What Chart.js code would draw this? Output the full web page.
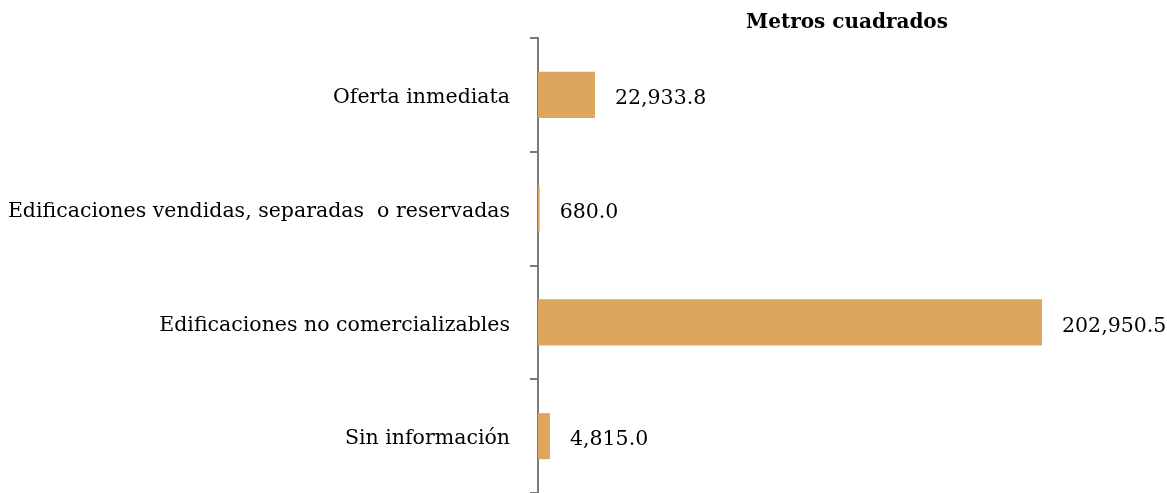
<!DOCTYPE html>
<html>
<head>
<meta charset="utf-8">
<script src="https://cdn.jsdelivr.net/npm/chart.js@4/dist/chart.umd.min.js"></script>
<style>
  body { margin: 0; background: #fff; }
  #wrap { width: 1167px; height: 493px; position: relative; }
</style>
</head>
<body>
<div id="wrap"><canvas id="chart"></canvas></div>
<script>
const categorias = ['Oferta inmediata', 'Edificaciones vendidas, separadas  o reservadas', 'Edificaciones no comercializables', 'Sin información'];
const metros = [22933.8, 680.0, 202950.5, 4815.0];
const titulo = 'Metros cuadrados';

const fuente = "'DejaVu Serif', serif";

// etiquetas de valor al final de cada barra + título
const etiquetas = {
    id: 'etiquetas',
    afterDatasetsDraw(chart) {
        const ctx = chart.ctx;
        const meta = chart.getDatasetMeta(0);
        ctx.save();
        ctx.font = '20.5px ' + fuente;
        ctx.fillStyle = '#000';
        ctx.textBaseline = 'middle';
        ctx.textAlign = 'left';
        meta.data.forEach(function(bar, i) {
            const txt = metros[i].toLocaleString('en-US', { minimumFractionDigits: 1, maximumFractionDigits: 1 });
            ctx.fillText(txt, bar.x + 20, bar.y + 4);
        });
        ctx.font = 'bold 20px ' + fuente;
        ctx.textAlign = 'center';
        ctx.fillText(titulo, 847, 23);
        ctx.restore();
    }
};

new Chart(document.getElementById('chart'), {
    type: 'bar',
    data: {
        labels: categorias,
        datasets: [{
            data: metros,
            backgroundColor: '#DDA65E',
            categoryPercentage: 1,
            barPercentage: 0.405
        }]
    },
    options: {
        indexAxis: 'y',
        responsive: true,
        maintainAspectRatio: false,
        animation: false,
        layout: { padding: { top: 38, right: 125, bottom: 0, left: 0 } },
        plugins: {
            legend: { display: false },
            tooltip: { enabled: false }
        },
        scales: {
            x: {
                display: false,
                min: 0,
                max: 202950.5
            },
            y: {
                afterFit: function(scale) {
                    scale.width = 538;
                    scale.paddingTop = 0;
                    scale.paddingBottom = 0;
                },
                border: { color: '#7a7a7a', width: 2 },
                grid: { drawOnChartArea: false, color: '#7a7a7a', lineWidth: 2, tickLength: 8, offset: true },
                ticks: {
                    color: '#000',
                    padding: 20,
                    labelOffset: 3,
                    font: { family: fuente, size: 20.5 }
                }
            }
        }
    },
    plugins: [etiquetas]
});
</script>
</body>
</html>
